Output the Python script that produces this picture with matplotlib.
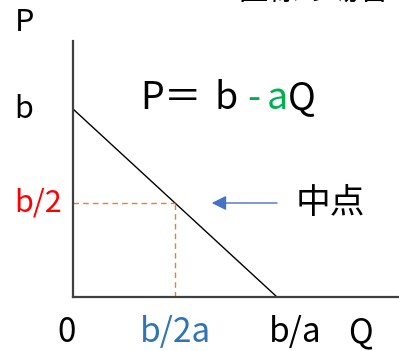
import matplotlib
matplotlib.use('Agg')
import matplotlib.pyplot as plt

plt.rcParams['font.family'] = ['Noto Sans CJK JP', 'DejaVu Sans']

# Demand line P = b - aQ with b = 1, a = 1
demand_q = [0.0, 1.0]
demand_p = [1.0, 0.0]
mid_q = 0.5
mid_p = 0.5
arrow_start_q = 1.0
arrow_end_q = 0.68

x_labels = ['0', 'b/2a', 'b/a', 'Q']
x_label_pos = [-0.03, 0.5, 1.09, 1.41]
x_label_colors = ['black', '#2E75B6', 'black', 'black']
y_labels = ['P', 'b', 'b/2']
y_label_pos = [1.46, 1.0, 0.5]
y_label_colors = ['black', 'black', '#FF0000']

fig = plt.figure(figsize=(3.99, 3.51), dpi=100)
ax = fig.add_axes([73 / 399, 54 / 351, 325 / 399, 256 / 351])
ax.set_xlim(0, 325 / 204)
ax.set_ylim(0, 256 / 188)
for side in ['top', 'right']:
    ax.spines[side].set_visible(False)
for side in ['left', 'bottom']:
    ax.spines[side].set_color('#404040')
    ax.spines[side].set_linewidth(1.6)
ax.set_xticks([])
ax.set_yticks([])

ax.plot(demand_q, demand_p, color='black', linewidth=1.0)
dash = dict(color='#ED7D31', linewidth=1.0, dashes=(4, 3))
ax.plot([0, mid_q], [mid_p, mid_p], **dash)
ax.plot([mid_q, mid_q], [0, mid_p], **dash)

ax.annotate('', xy=(arrow_end_q, mid_p), xytext=(arrow_start_q, mid_p),
            arrowprops=dict(arrowstyle='-|>', color='#4472C4', linewidth=1.0,
                            mutation_scale=22, shrinkA=0, shrinkB=0))
ax.text(1.09, mid_p, '中点', fontsize=25, ha='left', va='center')

for lab, q, c in zip(x_labels, x_label_pos, x_label_colors):
    ax.text(q, -0.19, lab, fontsize=24, color=c, ha='center', va='center')
for lab, p, c in zip(y_labels, y_label_pos, y_label_colors):
    ax.text(-0.18, p, lab, fontsize=22, color=c, ha='left', va='center',
            transform=ax.get_yaxis_transform())

# formula, drawn piece by piece for colours
green = '#00B050'
pieces = [('P', 140, 'black'), ('＝', 164, 'black'), ('b', 214, 'black'),
          ('-', 247, green), ('a', 267, green), ('Q', 288, 'black')]
for s, px, c in pieces:
    fig.text(px / 399, 1 - 109 / 351, s, fontsize=27, color=c,
             ha='left', va='baseline')

# title cut off at the top edge
fig.text(237 / 399, 1.0, '直線の場合', fontsize=22, ha='left',
         va='baseline')

fig.savefig('out.png', dpi=100)
